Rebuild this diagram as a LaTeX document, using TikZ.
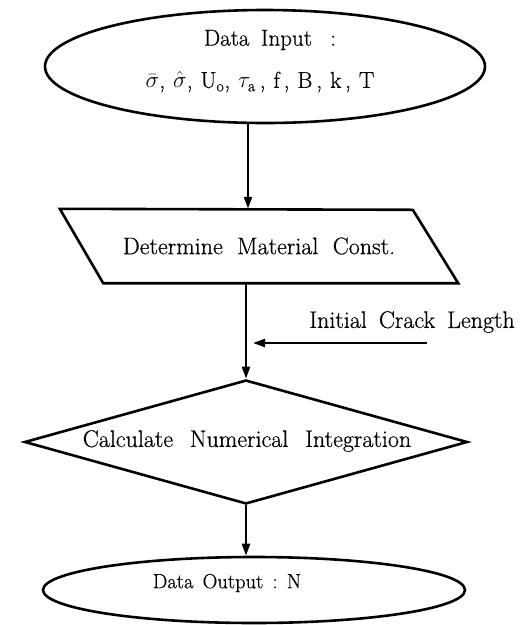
\RequirePackage{fix-cm}
\documentclass[tikz,border=0pt]{standalone}
\usepackage{fontspec}
\setmainfont{Latin Modern Roman}[FakeBold=0.5]
\usetikzlibrary{shapes.geometric,arrows.meta}
\begin{document}
\begin{tikzpicture}[x=1pt,y=-1pt,
  shapeline/.style={draw=black,line width=2.6pt},
  arr/.style={line width=2.4pt,-{Triangle[length=12pt,width=8pt]}},
  txt/.style={inner sep=0pt,font=\fontsize{24pt}{28pt}\selectfont},
  toptxt/.style={inner sep=0pt,font=\fontsize{23pt}{27pt}\selectfont},
  smalltxt/.style={inner sep=0pt,font=\fontsize{20.5pt}{24pt}\selectfont}]
\useasboundingbox (0,0) rectangle (524,625);
% input ellipse
\node[shapeline,ellipse,inner sep=0pt,minimum width=440pt,minimum height=113pt] (in) at (265,66.5) {};
\node[toptxt] (inA) at (270,40) {Data\hspace{0.5em}Input\hspace{0.8em}:};
\node[toptxt] (inB) at (260,82) {$\bar{\sigma}$,\hspace{0.35em}$\hat{\sigma}$,\hspace{0.35em}U$_{\mathrm{o}}$,\hspace{0.35em}$\tau_{\mathrm{a}}$\,,\hspace{0.35em}f\,,\hspace{0.35em}B\,,\hspace{0.35em}k\,,\hspace{0.35em}T};
% parallelogram
\node[txt,minimum width=398pt,minimum height=74pt] (det) at (259,246) {Determine\hspace{0.6em}Material\hspace{0.6em}Const.};
\draw[shapeline,line join=miter] (det.north west) -- ++(353,1) -- (det.south east) -- ++(-355,0) -- cycle;
% diamond
\node[shapeline,diamond,inner sep=0pt,minimum width=443pt,minimum height=124pt] (calc) at (246,442) {};
\node[txt] (calcT) at (247,441) {Calculate\hspace{0.7em}Numerical\hspace{0.7em}Integration};
% output ellipse
\node[shapeline,ellipse,inner sep=0pt,minimum width=422pt,minimum height=66pt] (out) at (254,590) {};
\node[smalltxt] (outT) at (227,583) {Data\hspace{0.45em}Output\hspace{0.45em}:\hspace{0.45em}N};
% side input
\node[txt] (icl) at (412,322) {Initial\hspace{0.5em}Crack\hspace{0.5em}Length};
\coordinate (iclS) at (427,343);
\coordinate (iclE) at (253,343);
\coordinate (c1) at (248,0);
% connectors
\draw[arr] (in.south -| c1) -- (det.north -| c1);
\draw[arr] (det.south -| calc.north) -- (calc.north);
\draw[arr] (iclS) -- (iclE);
\draw[arr] (calc.south) -- (out.north -| calc.south);
\end{tikzpicture}
\end{document}
